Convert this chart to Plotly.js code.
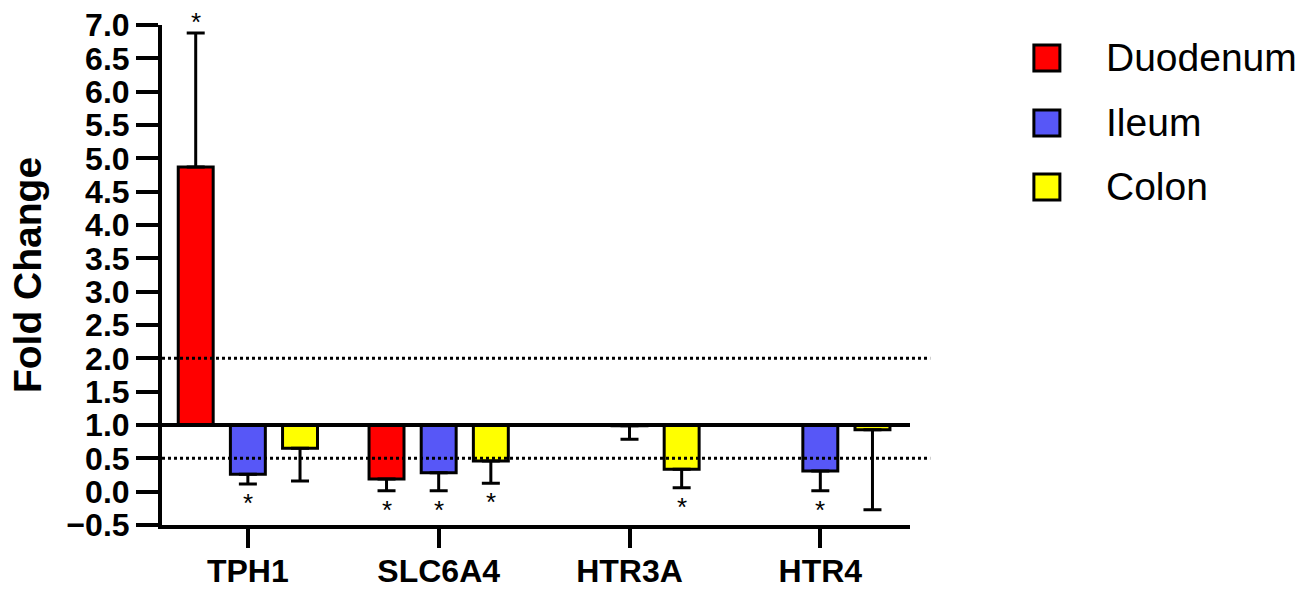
<!DOCTYPE html>
<html>
<head>
<meta charset="utf-8">
<script src="https://cdn.plot.ly/plotly-3.0.1.min.js"></script>
<style>html,body{margin:0;padding:0;background:#fff;}#chart{width:1309px;height:590px;}</style>
</head>
<body>
<div id="chart"></div>
<script>
// ---- data ----
const categories = ['TPH1', 'SLC6A4', 'HTR3A', 'HTR4'];
const seriesNames = ['Duodenum', 'Ileum', 'Colon'];
const duodenum = [4.87, 0.19, null, null];
const duodenumErr = [2.01, 0.175, null, null];
const ileum = [0.26, 0.285, 0.99, 0.31];
const ileumErr = [0.145, 0.27, 0.205, 0.295];
const colon = [0.65, 0.46, 0.335, 0.93];
const colonErr = [0.49, 0.335, 0.275, 1.20];
const duodenumSig = [true, true, false, false];
const ileumSig = [true, true, false, true];
const colonSig = [false, true, true, false];
const baseline = 1.0;
const yTickVals = [-0.5, 0, 0.5, 1, 1.5, 2, 2.5, 3, 3.5, 4, 4.5, 5, 5.5, 6, 6.5, 7];
const refLines = [2.0, 0.5];

// ---- styling ----
const colors = ['#FF0000', '#5757F7', '#FFFF00'];
const FONT = 'Arial, "Liberation Sans", sans-serif';
const bargap = 0.18;
const values = [duodenum, ileum, colon];
const errs = [duodenumErr, ileumErr, colonErr];
const sigs = [duodenumSig, ileumSig, colonSig];

const traces = values.map((vals, s) => {
  const up = vals.map((v, i) => (v !== null && v > baseline) ? errs[s][i] : 0);
  const down = vals.map((v, i) => (v !== null && v <= baseline) ? errs[s][i] : 0);
  return {
    type: 'bar',
    name: seriesNames[s],
    x: categories,
    y: vals.map(v => v === null ? null : v - baseline),
    base: baseline,
    marker: {color: colors[s], line: {color: '#000', width: 3}},
    error_y: {type: 'data', symmetric: false, array: up, arrayminus: down,
              color: '#000', thickness: 3, width: 9},
    showlegend: false
  };
});

const slot = (1 - bargap) / 3;
const annotations = [];
values.forEach((vals, s) => {
  vals.forEach((v, i) => {
    if (v === null || !sigs[s][i]) return;
    const isUp = v > baseline;
    const capVal = isUp ? v + errs[s][i] : v - errs[s][i];
    annotations.push({
      x: i + (s - 1) * slot, y: capVal, xref: 'x', yref: 'y',
      text: '*', showarrow: false, yanchor: 'middle',
      yshift: isUp ? 11 : -19,
      font: {family: FONT, size: 26, color: '#000'}
    });
  });
});

// manual legend
const legY = [0.934, 0.804, 0.676];
const shapes = [];
seriesNames.forEach((n, s) => {
  shapes.push({type: 'rect', xref: 'paper', yref: 'paper', xsizemode: 'pixel', ysizemode: 'pixel',
    xanchor: 1.183, yanchor: legY[s], x0: -13, x1: 13, y0: -13, y1: 13,
    fillcolor: colors[s], line: {color: '#000', width: 3}});
  annotations.push({xref: 'paper', yref: 'paper', x: 1.259, y: legY[s], xanchor: 'left', yanchor: 'middle',
    text: n, showarrow: false, font: {family: FONT, size: 39, color: '#000'}});
});
refLines.forEach(v => {
  shapes.push({type: 'line', xref: 'paper', yref: 'y', x0: 0, x1: 1.027, y0: v, y1: v,
    line: {color: '#000', width: 3, dash: 'dot'}, layer: 'above'});
});
shapes.push({type: 'line', xref: 'paper', yref: 'y', x0: 0, x1: 1, y0: baseline, y1: baseline,
  line: {color: '#000', width: 4}, layer: 'above'});

const layout = {
  width: 1309, height: 590,
  margin: {l: 162, r: 399, t: 25, b: 65, pad: 0},
  paper_bgcolor: '#fff', plot_bgcolor: '#fff',
  barmode: 'group', bargap: bargap, bargroupgap: 0.33,
  showlegend: false,
  xaxis: {
    type: 'category', range: [-0.45, 3.47],
    showline: true, linecolor: '#000', linewidth: 4, mirror: false,
    ticks: 'outside', ticklen: 19, tickwidth: 4, tickcolor: '#000',
    ticklabelstandoff: -4,
    showgrid: false, zeroline: false,
    tickfont: {family: FONT, size: 32, weight: 'bold', color: '#000'}
  },
  yaxis: {
    range: [-0.5, 7.0], tickvals: yTickVals, tickformat: '.1f',
    showline: true, linecolor: '#000', linewidth: 4,
    ticks: 'outside', ticklen: 22, tickwidth: 4, tickcolor: '#000',
    showgrid: false, zeroline: false,
    tickfont: {family: FONT, size: 32, weight: 'bold', color: '#000'},
    title: {text: 'Fold Change', standoff: 14,
            font: {family: FONT, size: 39, weight: 'bold', color: '#000'}}
  },
  shapes: shapes,
  annotations: annotations
};

Plotly.newPlot('chart', traces, layout, {staticPlot: true, displayModeBar: false});
</script>
</body>
</html>
